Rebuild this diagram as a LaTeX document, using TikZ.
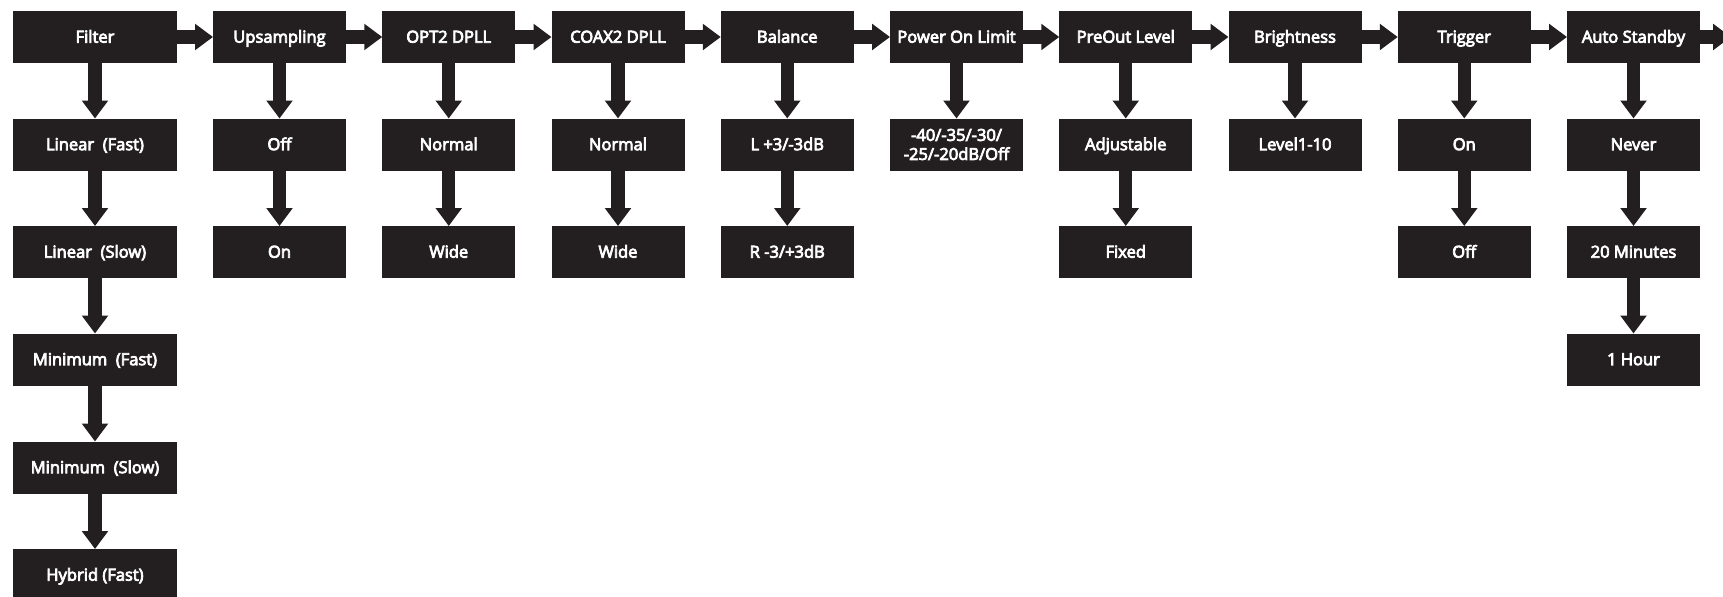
\documentclass[tikz,border=0pt]{standalone}
\usepackage{fontspec}
\setmainfont{Open Sans}
\newfontfamily\menufont{Open Sans}[FakeBold=4.5]
\usetikzlibrary{arrows.meta}

\definecolor{boxfill}{HTML}{231F20}
\tikzset{
  cell/.style={fill=boxfill, text=white, font=\menufont\fontsize{12.4}{14.3}\selectfont,
    minimum width=99.75pt, minimum height=39pt, inner sep=0pt, outer sep=0pt, align=center},
  menu/.style={cell, text height=10.5pt, text depth=2pt},
  firstbox/.style={menu, minimum width=123pt},
  arr/.style={draw=boxfill, line width=10pt, -{Triangle[width=19pt,length=13.5pt]}}
}

\begin{document}
\begin{tikzpicture}[x=0.75pt, y=-0.75pt]
    \clip (0,0) rectangle (1723,596);
    % top row of menu items
    \node[firstbox] (filt) at (95,37) {Filter};
    \node[menu] (ups) at (279.5,37) {Upsampling};
    \node[menu] (opt) at (448.75,37) {OPT2 DPLL};
    \node[menu] (coax) at (618,37) {COAX2 DPLL};
    \node[menu] (bal) at (787.25,37) {Balance};
    \node[menu] (pwr) at (956.5,37) {Power On Limit};
    \node[menu] (pre) at (1125.75,37) {PreOut Level};
    \node[menu] (bri) at (1295,37) {Brightness};
    \node[menu] (trg) at (1464.25,37) {Trigger};
    \node[menu] (stby) at (1633.5,37) {Auto Standby};
    \coordinate (next) at (1731,37);

    % settings below each item
    \node[firstbox] (f1) at (95,144.5) {Linear\ \ (Fast)};
    \node[firstbox] (f2) at (95,252) {Linear\ \ (Slow)};
    \node[firstbox] (f3) at (95,359.5) {Minimum\ \ (Fast)};
    \node[firstbox] (f4) at (95,467.5) {Minimum\ \ (Slow)};
    \node[firstbox] (f5) at (95,575) {Hybrid (Fast)};
    \node[menu] (ups1) at (279.5,144.5) {Off};
    \node[menu] (ups2) at (279.5,252) {On};
    \node[menu] (opt1) at (448.75,144.5) {Normal};
    \node[menu] (opt2) at (448.75,252) {Wide};
    \node[menu] (coax1) at (618,144.5) {Normal};
    \node[menu] (coax2) at (618,252) {Wide};
    \node[menu] (bal1) at (787.25,144.5) {L +3/-3dB};
    \node[menu] (bal2) at (787.25,252) {R -3/+3dB};
    \node[cell] (pwr1) at (956.5,144.5) {-40/-35/-30/\\-25/-20dB/Off};
    \node[menu] (pre1) at (1125.75,144.5) {Adjustable};
    \node[menu] (pre2) at (1125.75,252) {Fixed};
    \node[menu] (bri1) at (1295,144.5) {Level1-10};
    \node[menu] (trg1) at (1464.25,144.5) {On};
    \node[menu] (trg2) at (1464.25,252) {Off};
    \node[menu] (stby1) at (1633.5,144.5) {Never};
    \node[menu] (stby2) at (1633.5,252) {20 Minutes};
    \node[menu] (stby3) at (1633.5,359.5) {1 Hour};

    % across
    \draw[arr] (filt) -- (ups);
    \draw[arr] (ups) -- (opt);
    \draw[arr] (opt) -- (coax);
    \draw[arr] (coax) -- (bal);
    \draw[arr] (bal) -- (pwr);
    \draw[arr] (pwr) -- (pre);
    \draw[arr] (pre) -- (bri);
    \draw[arr] (bri) -- (trg);
    \draw[arr] (trg) -- (stby);
    \draw[arr] (stby) -- (next);

    % down
    \draw[arr] (filt) -- (f1);
    \draw[arr] (f1) -- (f2);
    \draw[arr] (f2) -- (f3);
    \draw[arr] (f3) -- (f4);
    \draw[arr] (f4) -- (f5);
    \draw[arr] (ups) -- (ups1);
    \draw[arr] (ups1) -- (ups2);
    \draw[arr] (opt) -- (opt1);
    \draw[arr] (opt1) -- (opt2);
    \draw[arr] (coax) -- (coax1);
    \draw[arr] (coax1) -- (coax2);
    \draw[arr] (bal) -- (bal1);
    \draw[arr] (bal1) -- (bal2);
    \draw[arr] (pwr) -- (pwr1);
    \draw[arr] (pre) -- (pre1);
    \draw[arr] (pre1) -- (pre2);
    \draw[arr] (bri) -- (bri1);
    \draw[arr] (trg) -- (trg1);
    \draw[arr] (trg1) -- (trg2);
    \draw[arr] (stby) -- (stby1);
    \draw[arr] (stby1) -- (stby2);
    \draw[arr] (stby2) -- (stby3);
  \end{tikzpicture}
\end{document}
